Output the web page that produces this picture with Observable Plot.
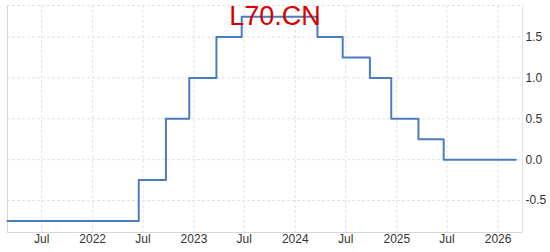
<!DOCTYPE html>
<html><head><meta charset="utf-8">
<script src="https://cdn.jsdelivr.net/npm/d3@7"></script>
<script src="https://cdn.jsdelivr.net/npm/@observablehq/plot@0.6"></script>
<style>
html,body{margin:0;padding:0;background:#fff;}
#wrap{position:relative;width:550px;height:252px;overflow:hidden;}
#title{position:absolute;left:0;top:3px;width:550px;text-align:center;font-family:"Liberation Sans",Arial,sans-serif;font-size:27px;line-height:27px;color:#d80000;z-index:2;pointer-events:none;}
</style></head><body>
<div id="wrap"><div id="title">L70.CN</div></div>
<script>
const dates = ["2021-02-28","2022-06-16","2022-09-22","2022-12-15","2023-03-23","2023-06-22","2024-03-21","2024-06-20","2024-09-26","2024-12-12","2025-03-20","2025-06-19","2026-03-06"];
const values = [-0.75,-0.25,0.5,1.0,1.5,1.75,1.5,1.25,1.0,0.5,0.25,0.0,0.0];
const xTickDates = ["2021-07-01","2022-01-01","2022-07-01","2023-01-01","2023-07-01","2024-01-01","2024-07-01","2025-01-01","2025-07-01","2026-01-01"];
const xTickLabels = ["Jul","2022","Jul","2023","Jul","2024","Jul","2025","Jul","2026"];
const yTicks = [-0.5,0.0,0.5,1.0,1.5];
const xDomain = ["2021-02-28","2026-03-30"];
const yDomain = [-0.891,1.887];

const data = dates.map((d,i)=>({date:new Date(d), value:values[i]}));
const tickDates = xTickDates.map(d=>new Date(d));
const labelOf = new Map(xTickDates.map((d,i)=>[new Date(d).getTime(), xTickLabels[i]]));
const xd = xDomain.map(d=>new Date(d));
const grid = "#e2e2e2";

const chart = Plot.plot({
  width:550, height:252,
  marginLeft:7, marginRight:28, marginTop:5, marginBottom:20,
  style:{fontFamily:'"Liberation Sans", Arial, sans-serif', fontSize:"12px", color:"#333", background:"#fff"},
  x:{type:"utc", domain:xd, label:null},
  y:{domain:yDomain, label:null},
  marks:[
    Plot.ruleX(tickDates, {stroke:grid, strokeDasharray:"3,2"}),
    Plot.ruleY(yTicks, {stroke:grid, strokeDasharray:"3,2"}),
    Plot.ruleY([yDomain[1]], {stroke:grid, strokeDasharray:"3,2"}),
    Plot.ruleX([xd[0]], {stroke:"#d6d6d6"}),
    Plot.ruleX([xd[1]], {stroke:"#e4e4e4"}),
    Plot.ruleY([yDomain[0]], {stroke:"#d6d6d6"}),
    Plot.line(data, {x:"date", y:"value", curve:"step-after", stroke:"#4a7dbf", strokeWidth:2}),
    Plot.axisX(tickDates, {tickSize:0, tickPadding:2, label:null, tickFormat:d=>labelOf.get(d.getTime())}),
    Plot.axisY(yTicks, {anchor:"right", tickSize:0, tickPadding:3, label:null, tickFormat:d=>d.toFixed(1)})
  ]
});
document.getElementById("wrap").appendChild(chart);
</script>
</body></html>
